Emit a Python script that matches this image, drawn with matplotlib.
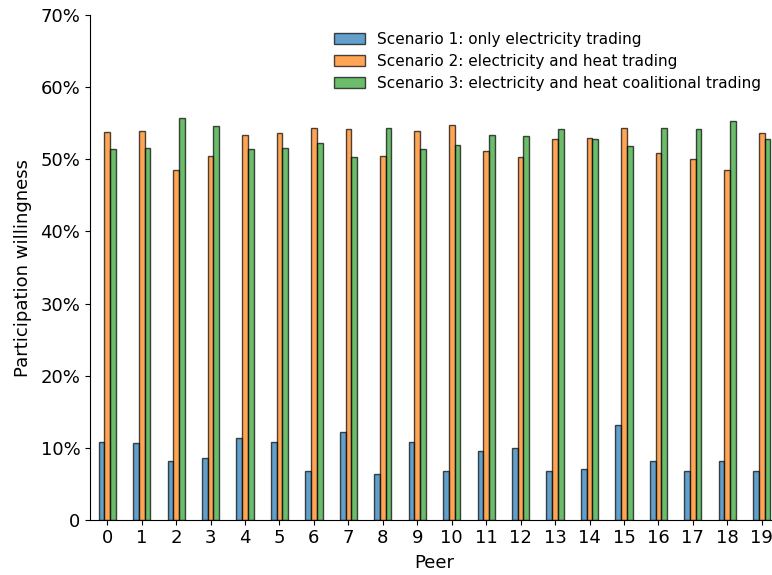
import matplotlib
matplotlib.use("Agg")
import matplotlib.pyplot as plt
import numpy as np
from matplotlib.ticker import FuncFormatter

peers = list(range(20))
series_labels = [
    "Scenario 1: only electricity trading",
    "Scenario 2: electricity and heat trading",
    "Scenario 3: electricity and heat coalitional trading",
]
scenario1 = [10.8, 10.6, 8.1, 8.5, 11.3, 10.8, 6.7, 12.2, 6.4, 10.8,
             6.7, 9.5, 10.0, 6.8, 7.0, 13.2, 8.2, 6.8, 8.1, 6.8]
scenario2 = [53.8, 53.9, 48.6, 50.5, 53.4, 53.7, 54.4, 54.2, 50.5, 53.9,
             54.8, 51.2, 50.4, 52.8, 53.0, 54.4, 50.9, 50.0, 48.6, 53.7]
scenario3 = [51.5, 51.6, 55.8, 54.6, 51.4, 51.6, 52.3, 50.3, 54.4, 51.4,
             52.0, 53.4, 53.3, 54.2, 52.8, 51.8, 54.4, 54.2, 55.4, 52.8]
colors = ["tab:blue", "tab:orange", "tab:green"]

fig = plt.figure(figsize=(7.72, 5.75), dpi=100)
ax = fig.add_axes([90 / 772, 55.3 / 575, 689 / 772, 504.4 / 575])

x = np.arange(len(peers))
width = 0.5 / 3
for i, (vals, lab, col) in enumerate(zip([scenario1, scenario2, scenario3], series_labels, colors)):
    ax.bar(x + (i - 1) * width, vals, width, label=lab, color=col, alpha=0.7,
           edgecolor="black", linewidth=1.0)

ax.set_xlim(-0.5, 19.5)
ax.set_ylim(0, 70)
ax.set_yticks(np.arange(0, 71, 10))
ax.yaxis.set_major_formatter(FuncFormatter(lambda v, p: "0" if v == 0 else f"{v:.0f}%"))
ax.set_xticks(x)
ax.set_xticklabels([str(p) for p in peers])
ax.tick_params(axis="both", labelsize=13)
ax.set_xlabel("Peer", fontsize=13, labelpad=5)
ax.set_ylabel("Participation willingness", fontsize=13, labelpad=6)
ax.spines["top"].set_visible(False)
ax.spines["right"].set_visible(False)

ax.legend(loc="upper left", bbox_to_anchor=(0.3345, 0.995), frameon=False, fontsize=11,
          handlelength=2.0, labelspacing=0.46)

fig.savefig("out.png", dpi=100)
